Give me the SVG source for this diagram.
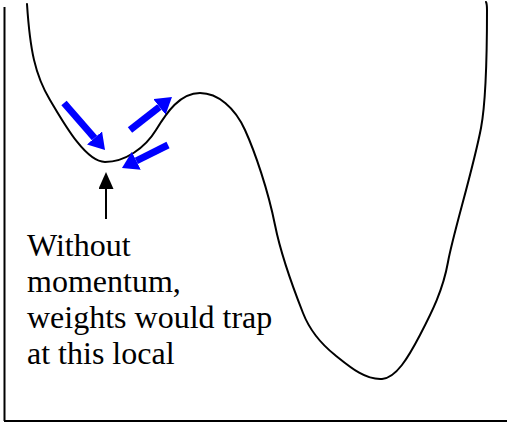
<svg xmlns="http://www.w3.org/2000/svg" width="507" height="423" viewBox="0 0 507 423">
  <style>
    .axis { stroke: #000; stroke-width: 2; fill: none; }
    .curve { stroke: #000; stroke-width: 2; fill: none; stroke-linecap: round; stroke-linejoin: round; }
    .blue { stroke: #0000FF; stroke-width: 7; fill: none; stroke-linecap: butt; }
    .pointer { stroke: #000; stroke-width: 2; fill: none; }
    .label { font-family: 'Liberation Serif', serif; font-size: 32px; fill: #000; }
  </style>
  <defs>
    <marker id="blueHead" viewBox="0 0 16 20" refX="0" refY="10" markerWidth="16" markerHeight="20" markerUnits="userSpaceOnUse" orient="auto">
      <path d="M0,0 L16,10 L0,20 Z" fill="#0000FF"/>
    </marker>
    <marker id="blackHead" viewBox="0 0 17 15" refX="0" refY="7.5" markerWidth="17" markerHeight="15" markerUnits="userSpaceOnUse" orient="auto">
      <path d="M0,0 L17,7.5 L0,15 Z" fill="#000"/>
    </marker>
  </defs>

  <g id="axes">
    <line class="axis" x1="4.5" y1="7" x2="4.5" y2="421"/>
    <line class="axis" x1="4" y1="421" x2="507" y2="421"/>
  </g>

  <g id="error-surface">
    <path class="curve" d="M27,4 C30,50 35,75 50,100 C62,120 85,162 105,162 C125,162 145,148 156,130 C167,112 180,93 200,93 C218,93 235,108 245,130 C255,152 268,190 275,225 C280,250 290,280 303,313 C310,331 320,343 335,355 C350,367 365,380 382,379 C396,378 408,358 420,335 C432,312 443,290 448,262 C453,234 473,170 481,128 C485,107 487,60 487,10 Q487,4 486,2"/>
  </g>

  <g id="connectors">
    <line class="blue" x1="64" y1="103" x2="94.5" y2="138" marker-end="url(#blueHead)"/>
    <line class="blue" x1="130" y1="130" x2="159.4" y2="106.9" marker-end="url(#blueHead)"/>
    <line class="blue" x1="168" y1="145" x2="136.3" y2="160.8" marker-end="url(#blueHead)"/>
    <line class="pointer" x1="106" y1="219" x2="106" y2="189" marker-end="url(#blackHead)"/>
  </g>

  <g id="label">
    <text class="label" x="27" y="256">Without</text>
    <text class="label" x="27" y="292">momentum,</text>
    <text class="label" x="27" y="328">weights would trap</text>
    <text class="label" x="27" y="364">at this local</text>
  </g>
</svg>
